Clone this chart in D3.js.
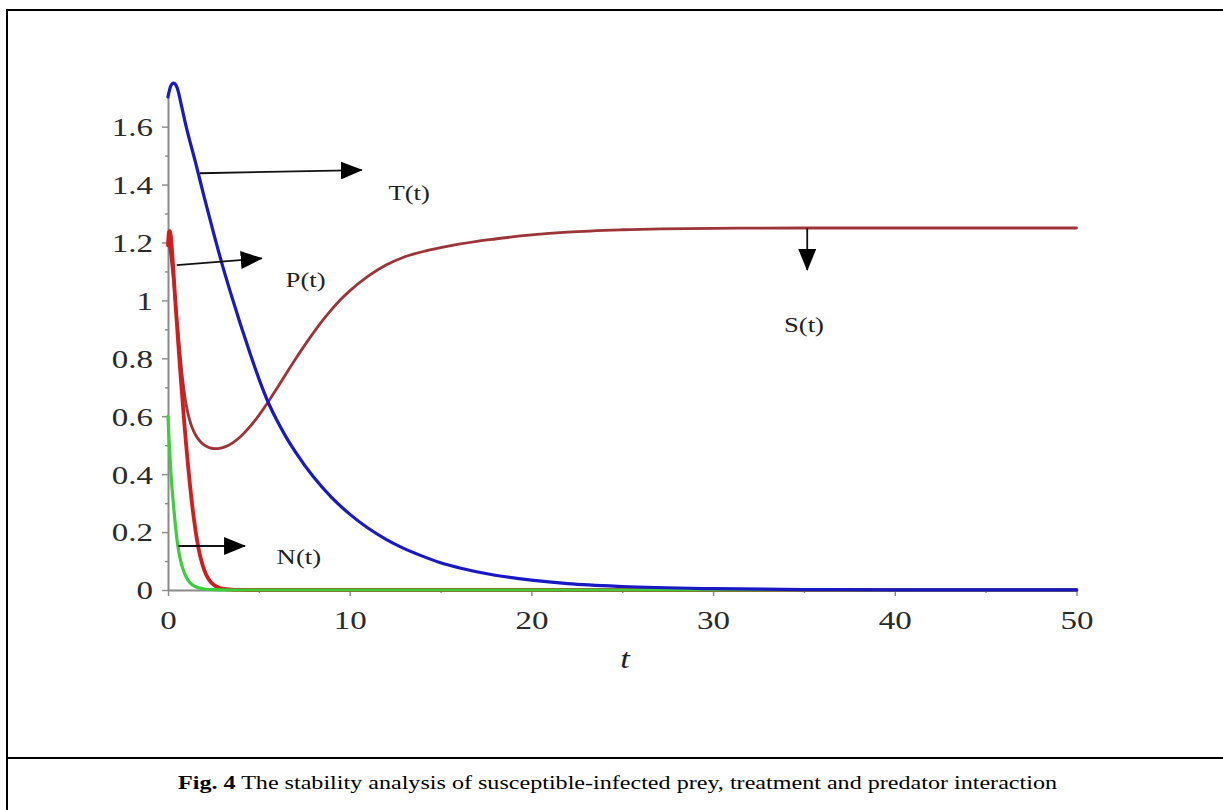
<!DOCTYPE html>
<html><head><meta charset="utf-8">
<script src="https://cdn.jsdelivr.net/npm/d3@7"></script>
<style>body{margin:0;background:#fff;} svg{display:block;}</style>
</head><body>
<svg id="chart" width="1223" height="810"></svg>
<script>
// ---------- data ----------
const tT   = [0, 0.15, 0.3, 0.5, 0.75, 1, 1.5, 2, 2.5, 3, 3.5, 4, 4.5, 5, 5.5, 6, 6.5, 7, 8, 9, 10, 11, 12, 13, 14, 15, 16, 18, 20, 22, 25, 30, 35, 40, 45, 50];
const valT = [1.703, 1.74, 1.75, 1.735, 1.67, 1.60, 1.48, 1.355, 1.235, 1.12, 1.015, 0.915, 0.82, 0.73, 0.65, 0.585, 0.528, 0.478, 0.391, 0.32, 0.262, 0.214, 0.175, 0.143, 0.117, 0.094, 0.077, 0.051, 0.034, 0.022, 0.012, 0.0045, 0.0016, 0.0006, 0.0002, 0.0001];

const tS   = [0, 0.1, 0.2, 0.3, 0.4, 0.5, 0.6, 0.7, 0.8, 0.9, 1.0, 1.2, 1.4, 1.6, 1.8, 2.0, 2.3, 2.6, 2.9, 3.2, 3.6, 4.0, 4.5, 5.0, 5.5, 6.0, 6.5, 7.0, 7.5, 8.0, 8.5, 9, 9.5, 10, 11, 12, 13, 14, 15, 16, 17, 18, 20, 22, 25, 30, 35, 40, 50];
const valS = [1.2, 1.18, 1.13, 1.07, 1.0, 0.93, 0.86, 0.79, 0.73, 0.68, 0.64, 0.585, 0.55, 0.527, 0.511, 0.5, 0.491, 0.488, 0.49, 0.496, 0.51, 0.53, 0.563, 0.603, 0.648, 0.697, 0.747, 0.796, 0.843, 0.888, 0.93, 0.968, 1.003, 1.033, 1.083, 1.122, 1.15, 1.168, 1.182, 1.194, 1.204, 1.212, 1.226, 1.236, 1.244, 1.249, 1.25, 1.25, 1.25];

const tP   = [0, 0.05, 0.1, 0.15, 0.2, 0.3, 0.4, 0.5, 0.6, 0.7, 0.8, 0.9, 1.0, 1.1, 1.2, 1.3, 1.4, 1.5, 1.6, 1.7, 1.8, 2.0, 2.2, 2.4, 2.6, 2.8, 3.0, 3.5, 4, 5, 10, 20, 30, 40, 50];
const valP = [1.19, 1.235, 1.24, 1.225, 1.19, 1.1, 1.0, 0.91, 0.82, 0.735, 0.655, 0.575, 0.5, 0.432, 0.368, 0.31, 0.258, 0.212, 0.172, 0.138, 0.11, 0.068, 0.041, 0.024, 0.014, 0.008, 0.0045, 0.001, 0.0003, 0, 0, 0, 0, 0, 0];

const tN   = [0, 0.05, 0.1, 0.15, 0.2, 0.3, 0.4, 0.5, 0.6, 0.7, 0.8, 1.0, 1.2, 1.5, 2, 2.5, 3, 4, 10, 20, 30, 40, 50];
const valN = [0.6, 0.53, 0.47, 0.415, 0.37, 0.295, 0.228, 0.172, 0.13, 0.1, 0.077, 0.045, 0.026, 0.012, 0.0035, 0.001, 0.0003, 0, 0, 0, 0, 0, 0];

const xTicks = [0, 10, 20, 30, 40, 50];
const xMinorTicks = [5, 15, 25, 35, 45];
const yTicks = [0, 0.2, 0.4, 0.6, 0.8, 1, 1.2, 1.4, 1.6];
const yTickLabels = ["0", "0.2", "0.4", "0.6", "0.8", "1", "1.2", "1.4", "1.6"];
const yMinorTicks = [0.1, 0.3, 0.5, 0.7, 0.9, 1.1, 1.3, 1.5];

// annotations: label, arrow start (t,v), arrow end (t,v), label position (t,v)
const annoLabels = ["T(t)", "P(t)", "N(t)", "S(t)"];
const annoFrom   = [[1.76, 1.439], [0.48, 1.122], [0.57, 0.152], [35.18, 1.249]];
const annoTo     = [[10.66, 1.450], [5.16, 1.145], [4.24, 0.152], [35.18, 1.105]];
const annoText   = [[13.27, 1.371], [7.57, 1.07], [7.2, 0.115], [35.0, 0.915]];

const caption = "The stability analysis of susceptible-infected prey, treatment and predator interaction";
const captionBold = "Fig. 4";

// ---------- drawing ----------
const svg = d3.select("#chart");
const SX = 1.27; // horizontal text stretch of the plot image
const serif = "'Liberation Serif', 'Times New Roman', serif";

const x = d3.scaleLinear().domain([0, 50]).range([168, 1076.5]);
const y = d3.scaleLinear().domain([0, 1.703]).range([590, 590 - 1.703 * 289.6]);

// frame
svg.append("rect").attr("x", 7).attr("y", 10).attr("width", 1230).attr("height", 820)
  .attr("fill", "none").attr("stroke", "#000").attr("stroke-width", 2);
svg.append("line").attr("x1", 7).attr("x2", 1230).attr("y1", 758).attr("y2", 758)
  .attr("stroke", "#000").attr("stroke-width", 2);

// caption
const cap = svg.append("text").attr("x", 178).attr("y", 789)
  .attr("font-family", serif).attr("font-size", 19).attr("fill", "#000")
  .attr("textLength", 879).attr("lengthAdjust", "spacingAndGlyphs");
cap.append("tspan").attr("font-weight", "bold").text(captionBold);
cap.append("tspan").text(" " + caption);

// axes
const axisColor = "#8a8a8a";
const gy = svg.append("g").attr("transform", `translate(${x(0)},0)`)
  .call(d3.axisLeft(y).tickValues(yTicks).tickSize(6).tickSizeOuter(0)
    .tickFormat((d, i) => yTickLabels[i]));
svg.append("g").attr("transform", `translate(${x(0)},0)`)
  .call(d3.axisLeft(y).tickValues(yMinorTicks).tickSize(3).tickSizeOuter(0).tickFormat(""))
  .call(g => g.select(".domain").remove());
const gx = svg.append("g").attr("transform", `translate(0,${y(0)})`)
  .call(d3.axisBottom(x).tickValues(xTicks).tickSize(6).tickSizeOuter(0).tickFormat(d3.format("d")));
svg.append("g").attr("transform", `translate(0,${y(0)})`)
  .call(d3.axisBottom(x).tickValues(xMinorTicks).tickSize(3).tickSizeOuter(0).tickFormat(""))
  .call(g => g.select(".domain").remove());

svg.selectAll(".domain").attr("stroke", axisColor).attr("stroke-width", 2);
svg.selectAll(".tick line").attr("stroke", axisColor).attr("stroke-width", 1.4);

gy.selectAll("text").attr("font-family", serif).attr("font-size", 26).attr("fill", "#2a2a2a")
  .attr("x", -15 / SX).attr("dy", "0.34em").attr("transform", `scale(${SX},1)`);
gx.selectAll("text").attr("font-family", serif).attr("font-size", 26).attr("fill", "#2a2a2a")
  .attr("y", 39).attr("dy", 0).attr("transform", `scale(${SX},1)`);

// axis title
svg.append("text").attr("transform", `translate(625,668) scale(${SX},1)`)
  .attr("text-anchor", "middle").attr("font-family", serif).attr("font-style", "italic")
  .attr("font-size", 27).attr("fill", "#222").text("t");

// curves
const line = d3.line().x(d => x(d[0])).y(d => y(d[1])).curve(d3.curveMonotoneX);
const series = [
  {t: tS, v: valS, color: "#9c3438", w: 2.8},
  {t: tP, v: valP, color: "#d41c1c", w: 3.8},
  {t: tN, v: valN, color: "#3ccf3c", w: 3.2},
  {t: tT, v: valT, color: "#1818c4", w: 3.2}
];
series.forEach(s => {
  svg.append("path").datum(s.t.map((t, i) => [t, s.v[i]]))
    .attr("d", line).attr("fill", "none").attr("stroke", s.color)
    .attr("stroke-width", s.w).attr("stroke-linejoin", "round").attr("stroke-linecap", "round");
});

// arrows
svg.append("defs").append("marker").attr("id", "head")
  .attr("markerUnits", "userSpaceOnUse").attr("markerWidth", 22).attr("markerHeight", 18)
  .attr("refX", 21).attr("refY", 9).attr("orient", "auto")
  .append("path").attr("d", "M0,0 L22,9 L0,18 Z").attr("fill", "#000");

annoLabels.forEach((lab, i) => {
  svg.append("line")
    .attr("x1", x(annoFrom[i][0])).attr("y1", y(annoFrom[i][1]))
    .attr("x2", x(annoTo[i][0])).attr("y2", y(annoTo[i][1]))
    .attr("stroke", "#111").attr("stroke-width", 1.8).attr("marker-end", "url(#head)");
  svg.append("text")
    .attr("transform", `translate(${x(annoText[i][0])},${y(annoText[i][1])}) scale(${SX},1)`)
    .attr("text-anchor", "middle").attr("dy", "0.35em")
    .attr("font-family", serif).attr("font-size", 21).attr("fill", "#222").text(lab);
});
</script>
</body></html>
